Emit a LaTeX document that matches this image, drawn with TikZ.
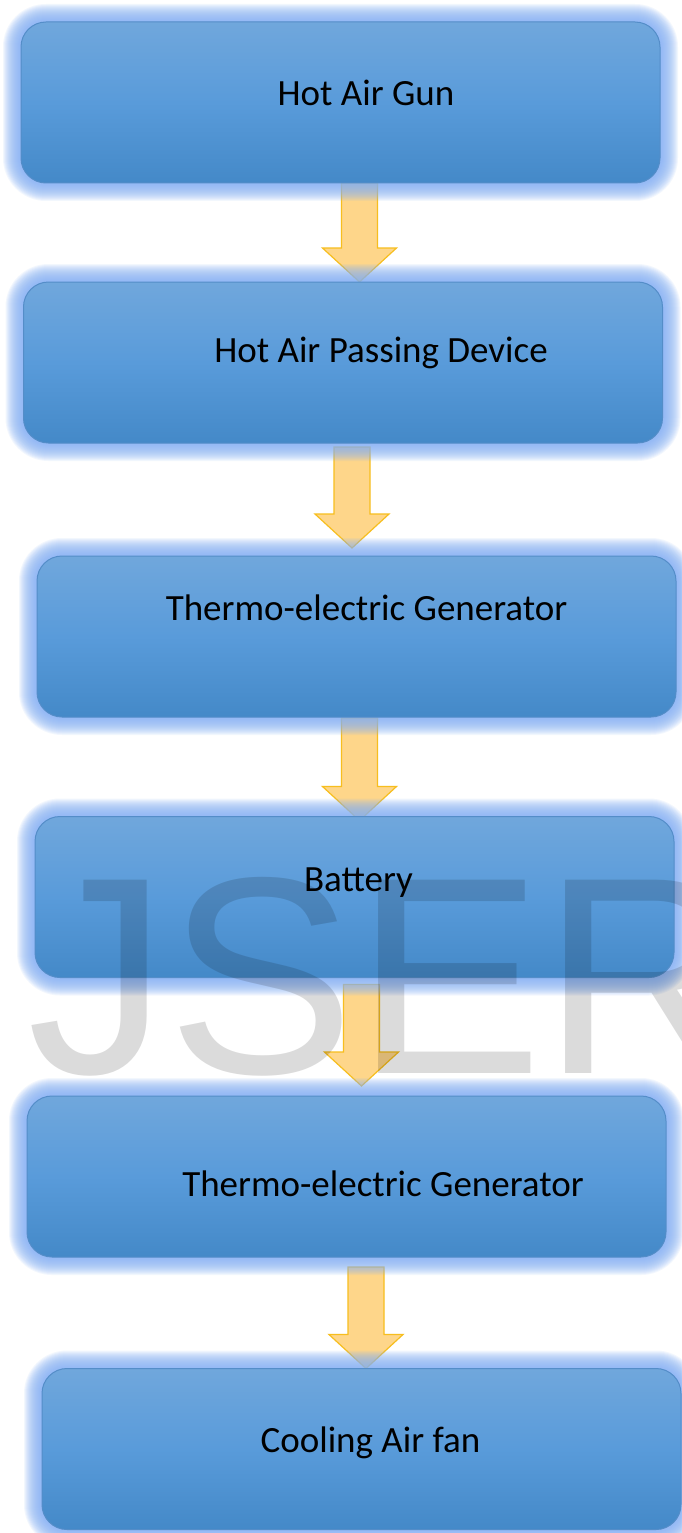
\documentclass[tikz,border=0pt]{standalone}
\usepackage{fontspec}
\setmainfont{Carlito}
\newfontfamily\wmfont{Liberation Sans}
\usetikzlibrary{calc}
\pgfdeclarelayer{bg}\pgfdeclarelayer{arr}\pgfdeclarelayer{glow}\pgfdeclarelayer{front}
\pgfsetlayers{bg,arr,glow,main,front}
\definecolor{boxtop}{RGB}{112,167,220}
\definecolor{boxmid}{RGB}{89,155,218}
\definecolor{boxbot}{RGB}{68,137,200}
\definecolor{boxline}{RGB}{84,141,200}
\definecolor{glowc}{RGB}{135,178,245}
\definecolor{arrfill}{RGB}{254,214,138}
\definecolor{arrline}{RGB}{247,190,30}
\tikzset{
  flowbox/.style={draw=boxline, line width=1pt, rounded corners=25pt,
    top color=boxtop, bottom color=boxbot, middle color=boxmid,
    minimum width=639pt, minimum height=161pt, inner sep=0pt, outer sep=0pt},
  lbl/.style={anchor=base, inner sep=0pt, font=\fontsize{37}{40}\selectfont, text=black},
  arrowsty/.style={fill=arrfill, draw=arrline, line width=1.2pt, line join=miter},
  wmark/.style={anchor=base west, inner sep=0pt, text=black, text opacity=0.14,
    font=\wmfont\fontsize{281}{281}\selectfont}
}
% block arrow: from, to, x centre, gap below source, gap above target
\newcommand\blockarrow[5]{%
  \begin{pgfonlayer}{arr}
  \draw[arrowsty] let \p1=(#1.south), \p2=(#2.north) in
    ({#3pt-18pt},{\y1-#4pt}) -- ({#3pt+18pt},{\y1-#4pt})
    -- ({#3pt+18pt},{\y2+#5pt+34pt}) -- ({#3pt+37pt},{\y2+#5pt+34pt})
    -- ({#3pt},{\y2+#5pt}) -- ({#3pt-37pt},{\y2+#5pt+34pt})
    -- ({#3pt-18pt},{\y2+#5pt+34pt}) -- cycle;
  \end{pgfonlayer}}
\begin{document}
\begin{tikzpicture}[x=1pt,y=-1pt]
\useasboundingbox (0,0) rectangle (681,1533);
\begin{pgfonlayer}{bg}
\fill[white] (0,0) rectangle (681,1533);
\end{pgfonlayer}

\node[flowbox] (b1) at (340.5,102.5) {};
\node[flowbox] (b2) at (343,362.5) {};
\node[flowbox] (b3) at (356.5,636.5) {};
\node[flowbox] (b4) at (354.5,897) {};
\node[flowbox] (b5) at (346.5,1176.5) {};
\node[flowbox] (b6) at (361.5,1449) {};

\node[lbl] (t1) at (366,106) {Hot Air Gun};
\node[lbl] (t2) at (381,362) {Hot Air Passing Device};
\node[lbl] (t3) at (366.5,620) {Thermo-electric Generator};
\node[lbl] (t4) at (358.5,891) {Battery};
\node[lbl] (t5) at (383,1196) {Thermo-electric Generator};
\node[lbl] (t6) at (370.5,1452) {Cooling Air fan};

\begin{pgfonlayer}{glow}
\foreach \b in {b1,b2,b3,b4,b5,b6}{
  \foreach \i [evaluate=\i as \r using 25+\i] in {1,...,18}{
    \fill[glowc, fill opacity=0.1, rounded corners=\r pt]
      ($(\b.south west)+(-\i,\i)$) rectangle ($(\b.north east)+(\i,-\i)$);
  }
}
\end{pgfonlayer}

\blockarrow{b1}{b2}{359.5}{0}{0}
\blockarrow{b2}{b3}{352}{4}{8}
\blockarrow{b3}{b4}{359.5}{1}{-4}
\blockarrow{b4}{b5}{361.5}{7}{10}
\blockarrow{b5}{b6}{366}{10}{0}

\begin{pgfonlayer}{front}
\node[wmark] (wm) at (27,1073) {JSER};
\end{pgfonlayer}
\end{tikzpicture}
\end{document}
